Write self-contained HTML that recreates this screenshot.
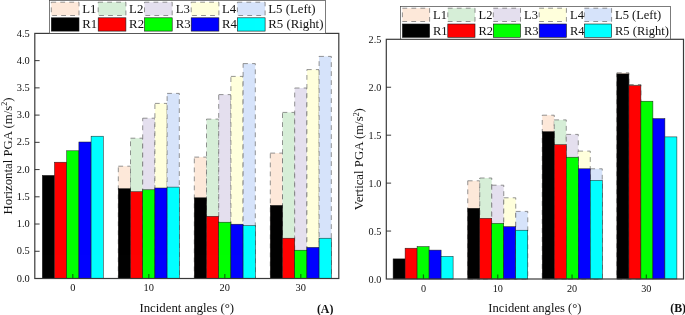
<!DOCTYPE html>
<html><head><meta charset="utf-8"><title>PGA charts</title>
<style>
html,body{margin:0;padding:0;background:#fff;}
body{width:685px;height:315px;overflow:hidden;font-family:"Liberation Serif",serif;}
svg{display:block;will-change:transform;opacity:0.999;}
svg text{font-family:"Liberation Serif",serif;fill:#111;}
</style></head><body>
<svg width="685" height="315" viewBox="0 0 685 315">
<rect x="0" y="0" width="685" height="315" fill="#ffffff"/>
<rect x="118.30" y="166.20" width="12.20" height="112.30" fill="#FDE8D9" stroke="#707070" stroke-width="0.75" stroke-dasharray="4.8 4.2"/>
<rect x="130.50" y="138.20" width="12.20" height="140.30" fill="#D6EED7" stroke="#707070" stroke-width="0.75" stroke-dasharray="4.8 4.2"/>
<rect x="142.70" y="118.20" width="12.20" height="160.30" fill="#E4DFEE" stroke="#707070" stroke-width="0.75" stroke-dasharray="4.8 4.2"/>
<rect x="154.90" y="103.40" width="12.20" height="175.10" fill="#FFFFDC" stroke="#707070" stroke-width="0.75" stroke-dasharray="4.8 4.2"/>
<rect x="167.10" y="93.40" width="12.20" height="185.10" fill="#D6E3FA" stroke="#707070" stroke-width="0.75" stroke-dasharray="4.8 4.2"/>
<rect x="194.30" y="157.10" width="12.20" height="121.40" fill="#FDE8D9" stroke="#707070" stroke-width="0.75" stroke-dasharray="4.8 4.2"/>
<rect x="206.50" y="119.10" width="12.20" height="159.40" fill="#D6EED7" stroke="#707070" stroke-width="0.75" stroke-dasharray="4.8 4.2"/>
<rect x="218.70" y="94.60" width="12.20" height="183.90" fill="#E4DFEE" stroke="#707070" stroke-width="0.75" stroke-dasharray="4.8 4.2"/>
<rect x="230.90" y="76.40" width="12.20" height="202.10" fill="#FFFFDC" stroke="#707070" stroke-width="0.75" stroke-dasharray="4.8 4.2"/>
<rect x="243.10" y="63.60" width="12.20" height="214.90" fill="#D6E3FA" stroke="#707070" stroke-width="0.75" stroke-dasharray="4.8 4.2"/>
<rect x="270.30" y="153.10" width="12.20" height="125.40" fill="#FDE8D9" stroke="#707070" stroke-width="0.75" stroke-dasharray="4.8 4.2"/>
<rect x="282.50" y="112.40" width="12.20" height="166.10" fill="#D6EED7" stroke="#707070" stroke-width="0.75" stroke-dasharray="4.8 4.2"/>
<rect x="294.70" y="88.00" width="12.20" height="190.50" fill="#E4DFEE" stroke="#707070" stroke-width="0.75" stroke-dasharray="4.8 4.2"/>
<rect x="306.90" y="69.60" width="12.20" height="208.90" fill="#FFFFDC" stroke="#707070" stroke-width="0.75" stroke-dasharray="4.8 4.2"/>
<rect x="319.10" y="56.40" width="12.20" height="222.10" fill="#D6E3FA" stroke="#707070" stroke-width="0.75" stroke-dasharray="4.8 4.2"/>
<rect x="42.30" y="175.40" width="12.20" height="103.10" fill="#000000" stroke="#1a1a1a" stroke-width="0.5"/>
<rect x="54.50" y="162.20" width="12.20" height="116.30" fill="#FF0000" stroke="#1a1a1a" stroke-width="0.5"/>
<rect x="66.70" y="150.80" width="12.20" height="127.70" fill="#00FF00" stroke="#1a1a1a" stroke-width="0.5"/>
<rect x="78.90" y="142.00" width="12.20" height="136.50" fill="#0000FF" stroke="#1a1a1a" stroke-width="0.5"/>
<rect x="91.10" y="136.20" width="12.20" height="142.30" fill="#00FFFF" stroke="#1a1a1a" stroke-width="0.5"/>
<rect x="118.30" y="188.70" width="12.20" height="89.80" fill="#000000" stroke="#1a1a1a" stroke-width="0.5"/>
<rect x="130.50" y="191.70" width="12.20" height="86.80" fill="#FF0000" stroke="#1a1a1a" stroke-width="0.5"/>
<rect x="142.70" y="189.80" width="12.20" height="88.70" fill="#00FF00" stroke="#1a1a1a" stroke-width="0.5"/>
<rect x="154.90" y="188.00" width="12.20" height="90.50" fill="#0000FF" stroke="#1a1a1a" stroke-width="0.5"/>
<rect x="167.10" y="187.10" width="12.20" height="91.40" fill="#00FFFF" stroke="#1a1a1a" stroke-width="0.5"/>
<rect x="194.30" y="197.80" width="12.20" height="80.70" fill="#000000" stroke="#1a1a1a" stroke-width="0.5"/>
<rect x="206.50" y="216.30" width="12.20" height="62.20" fill="#FF0000" stroke="#1a1a1a" stroke-width="0.5"/>
<rect x="218.70" y="222.20" width="12.20" height="56.30" fill="#00FF00" stroke="#1a1a1a" stroke-width="0.5"/>
<rect x="230.90" y="224.20" width="12.20" height="54.30" fill="#0000FF" stroke="#1a1a1a" stroke-width="0.5"/>
<rect x="243.10" y="225.60" width="12.20" height="52.90" fill="#00FFFF" stroke="#1a1a1a" stroke-width="0.5"/>
<rect x="270.30" y="205.40" width="12.20" height="73.10" fill="#000000" stroke="#1a1a1a" stroke-width="0.5"/>
<rect x="282.50" y="238.20" width="12.20" height="40.30" fill="#FF0000" stroke="#1a1a1a" stroke-width="0.5"/>
<rect x="294.70" y="250.20" width="12.20" height="28.30" fill="#00FF00" stroke="#1a1a1a" stroke-width="0.5"/>
<rect x="306.90" y="247.40" width="12.20" height="31.10" fill="#0000FF" stroke="#1a1a1a" stroke-width="0.5"/>
<rect x="319.10" y="238.20" width="12.20" height="40.30" fill="#00FFFF" stroke="#1a1a1a" stroke-width="0.5"/>
<rect x="34.8" y="33.4" width="304.00" height="245.10" fill="none" stroke="#3a3a3a" stroke-width="1.2"/>
<text x="29.80" y="281.60" font-size="10.4" text-anchor="end">0.0</text>
<line x1="34.8" y1="251.27" x2="39.599999999999994" y2="251.27" stroke="#222" stroke-width="0.9"/>
<text x="29.80" y="254.37" font-size="10.4" text-anchor="end">0.5</text>
<line x1="34.8" y1="224.03" x2="39.599999999999994" y2="224.03" stroke="#222" stroke-width="0.9"/>
<text x="29.80" y="227.13" font-size="10.4" text-anchor="end">1.0</text>
<line x1="34.8" y1="196.80" x2="39.599999999999994" y2="196.80" stroke="#222" stroke-width="0.9"/>
<text x="29.80" y="199.90" font-size="10.4" text-anchor="end">1.5</text>
<line x1="34.8" y1="169.57" x2="39.599999999999994" y2="169.57" stroke="#222" stroke-width="0.9"/>
<text x="29.80" y="172.67" font-size="10.4" text-anchor="end">2.0</text>
<line x1="34.8" y1="142.33" x2="39.599999999999994" y2="142.33" stroke="#222" stroke-width="0.9"/>
<text x="29.80" y="145.43" font-size="10.4" text-anchor="end">2.5</text>
<line x1="34.8" y1="115.10" x2="39.599999999999994" y2="115.10" stroke="#222" stroke-width="0.9"/>
<text x="29.80" y="118.20" font-size="10.4" text-anchor="end">3.0</text>
<line x1="34.8" y1="87.87" x2="39.599999999999994" y2="87.87" stroke="#222" stroke-width="0.9"/>
<text x="29.80" y="90.97" font-size="10.4" text-anchor="end">3.5</text>
<line x1="34.8" y1="60.63" x2="39.599999999999994" y2="60.63" stroke="#222" stroke-width="0.9"/>
<text x="29.80" y="63.73" font-size="10.4" text-anchor="end">4.0</text>
<text x="29.80" y="36.50" font-size="10.4" text-anchor="end">4.5</text>
<line x1="72.80" y1="278.5" x2="72.80" y2="273.9" stroke="#0a6e0a" stroke-width="1.2"/>
<text x="72.80" y="291.2" font-size="10.4" text-anchor="middle">0</text>
<line x1="148.80" y1="278.5" x2="148.80" y2="273.9" stroke="#0a6e0a" stroke-width="1.2"/>
<text x="148.80" y="291.2" font-size="10.4" text-anchor="middle">10</text>
<line x1="224.80" y1="278.5" x2="224.80" y2="273.9" stroke="#0a6e0a" stroke-width="1.2"/>
<text x="224.80" y="291.2" font-size="10.4" text-anchor="middle">20</text>
<line x1="300.80" y1="278.5" x2="300.80" y2="273.9" stroke="#0a6e0a" stroke-width="1.2"/>
<text x="300.80" y="291.2" font-size="10.4" text-anchor="middle">30</text>
<text x="186.80" y="311.6" font-size="12.8" text-anchor="middle">Incident angles (°)</text>
<text transform="translate(11.7,155.95) rotate(-90)" font-size="12.8" text-anchor="middle">Horizontal PGA (m/s<tspan dy="-4.8" font-size="7.94">2</tspan><tspan dy="4.8">)</tspan></text>
<text x="316.9" y="312.5" font-size="11.9" font-weight="bold">(A)</text>
<rect x="49.6" y="0.4" width="275.90" height="33.00" fill="#fff" stroke="#444" stroke-width="0.7"/>
<rect x="51.30" y="2.2" width="27.7" height="13.3" fill="#FDE8D9" stroke="#707070" stroke-width="0.75" stroke-dasharray="4.8 4.2"/>
<rect x="51.30" y="17.8" width="27.7" height="13.3" fill="#000000" stroke="#1a1a1a" stroke-width="0.6"/>
<text x="82.20" y="12.8" font-size="12.8">L1</text>
<text x="82.20" y="28.4" font-size="12.8">R1</text>
<rect x="98.20" y="2.2" width="27.7" height="13.3" fill="#D6EED7" stroke="#707070" stroke-width="0.75" stroke-dasharray="4.8 4.2"/>
<rect x="98.20" y="17.8" width="27.7" height="13.3" fill="#FF0000" stroke="#1a1a1a" stroke-width="0.6"/>
<text x="129.10" y="12.8" font-size="12.8">L2</text>
<text x="129.10" y="28.4" font-size="12.8">R2</text>
<rect x="144.50" y="2.2" width="27.7" height="13.3" fill="#E4DFEE" stroke="#707070" stroke-width="0.75" stroke-dasharray="4.8 4.2"/>
<rect x="144.50" y="17.8" width="27.7" height="13.3" fill="#00FF00" stroke="#1a1a1a" stroke-width="0.6"/>
<text x="175.80" y="12.8" font-size="12.8">L3</text>
<text x="175.80" y="28.4" font-size="12.8">R3</text>
<rect x="191.20" y="2.2" width="27.7" height="13.3" fill="#FFFFDC" stroke="#707070" stroke-width="0.75" stroke-dasharray="4.8 4.2"/>
<rect x="191.20" y="17.8" width="27.7" height="13.3" fill="#0000FF" stroke="#1a1a1a" stroke-width="0.6"/>
<text x="222.00" y="12.8" font-size="12.8">L4</text>
<text x="222.00" y="28.4" font-size="12.8">R4</text>
<rect x="237.40" y="2.2" width="27.7" height="13.3" fill="#D6E3FA" stroke="#707070" stroke-width="0.75" stroke-dasharray="4.8 4.2"/>
<rect x="237.40" y="17.8" width="27.7" height="13.3" fill="#00FFFF" stroke="#1a1a1a" stroke-width="0.6"/>
<text x="268.30" y="12.8" font-size="12.8">L5 (Left)</text>
<text x="268.30" y="28.4" font-size="12.8">R5 (Right)</text>
<rect x="467.75" y="180.80" width="12.00" height="98.20" fill="#FDE8D9" stroke="#707070" stroke-width="0.75" stroke-dasharray="4.8 4.2"/>
<rect x="479.75" y="178.00" width="12.00" height="101.00" fill="#D6EED7" stroke="#707070" stroke-width="0.75" stroke-dasharray="4.8 4.2"/>
<rect x="491.75" y="185.20" width="12.00" height="93.80" fill="#E4DFEE" stroke="#707070" stroke-width="0.75" stroke-dasharray="4.8 4.2"/>
<rect x="503.75" y="197.80" width="12.00" height="81.20" fill="#FFFFDC" stroke="#707070" stroke-width="0.75" stroke-dasharray="4.8 4.2"/>
<rect x="515.75" y="211.40" width="12.00" height="67.60" fill="#D6E3FA" stroke="#707070" stroke-width="0.75" stroke-dasharray="4.8 4.2"/>
<rect x="542.25" y="115.20" width="12.00" height="163.80" fill="#FDE8D9" stroke="#707070" stroke-width="0.75" stroke-dasharray="4.8 4.2"/>
<rect x="554.25" y="119.90" width="12.00" height="159.10" fill="#D6EED7" stroke="#707070" stroke-width="0.75" stroke-dasharray="4.8 4.2"/>
<rect x="566.25" y="134.40" width="12.00" height="144.60" fill="#E4DFEE" stroke="#707070" stroke-width="0.75" stroke-dasharray="4.8 4.2"/>
<rect x="578.25" y="151.10" width="12.00" height="127.90" fill="#FFFFDC" stroke="#707070" stroke-width="0.75" stroke-dasharray="4.8 4.2"/>
<rect x="590.25" y="168.80" width="12.00" height="110.20" fill="#D6E3FA" stroke="#707070" stroke-width="0.75" stroke-dasharray="4.8 4.2"/>
<rect x="616.90" y="72.80" width="12.00" height="206.20" fill="#FDE8D9" stroke="#707070" stroke-width="0.75" stroke-dasharray="4.8 4.2"/>
<rect x="628.90" y="84.50" width="12.00" height="194.50" fill="#D6EED7" stroke="#707070" stroke-width="0.75" stroke-dasharray="4.8 4.2"/>
<rect x="393.10" y="258.90" width="12.00" height="20.10" fill="#000000" stroke="#1a1a1a" stroke-width="0.5"/>
<rect x="405.10" y="248.20" width="12.00" height="30.80" fill="#FF0000" stroke="#1a1a1a" stroke-width="0.5"/>
<rect x="417.10" y="246.60" width="12.00" height="32.40" fill="#00FF00" stroke="#1a1a1a" stroke-width="0.5"/>
<rect x="429.10" y="250.10" width="12.00" height="28.90" fill="#0000FF" stroke="#1a1a1a" stroke-width="0.5"/>
<rect x="441.10" y="256.30" width="12.00" height="22.70" fill="#00FFFF" stroke="#1a1a1a" stroke-width="0.5"/>
<rect x="467.75" y="208.30" width="12.00" height="70.70" fill="#000000" stroke="#1a1a1a" stroke-width="0.5"/>
<rect x="479.75" y="218.30" width="12.00" height="60.70" fill="#FF0000" stroke="#1a1a1a" stroke-width="0.5"/>
<rect x="491.75" y="223.40" width="12.00" height="55.60" fill="#00FF00" stroke="#1a1a1a" stroke-width="0.5"/>
<rect x="503.75" y="226.70" width="12.00" height="52.30" fill="#0000FF" stroke="#1a1a1a" stroke-width="0.5"/>
<rect x="515.75" y="230.20" width="12.00" height="48.80" fill="#00FFFF" stroke="#1a1a1a" stroke-width="0.5"/>
<rect x="542.25" y="131.70" width="12.00" height="147.30" fill="#000000" stroke="#1a1a1a" stroke-width="0.5"/>
<rect x="554.25" y="144.70" width="12.00" height="134.30" fill="#FF0000" stroke="#1a1a1a" stroke-width="0.5"/>
<rect x="566.25" y="157.20" width="12.00" height="121.80" fill="#00FF00" stroke="#1a1a1a" stroke-width="0.5"/>
<rect x="578.25" y="168.80" width="12.00" height="110.20" fill="#0000FF" stroke="#1a1a1a" stroke-width="0.5"/>
<rect x="590.25" y="180.40" width="12.00" height="98.60" fill="#00FFFF" stroke="#1a1a1a" stroke-width="0.5"/>
<rect x="616.90" y="73.90" width="12.00" height="205.10" fill="#000000" stroke="#1a1a1a" stroke-width="0.5"/>
<rect x="628.90" y="85.50" width="12.00" height="193.50" fill="#FF0000" stroke="#1a1a1a" stroke-width="0.5"/>
<rect x="640.90" y="101.20" width="12.00" height="177.80" fill="#00FF00" stroke="#1a1a1a" stroke-width="0.5"/>
<rect x="652.90" y="118.60" width="12.00" height="160.40" fill="#0000FF" stroke="#1a1a1a" stroke-width="0.5"/>
<rect x="664.90" y="136.90" width="12.00" height="142.10" fill="#00FFFF" stroke="#1a1a1a" stroke-width="0.5"/>
<rect x="386.3" y="39.3" width="297.20" height="239.70" fill="none" stroke="#3a3a3a" stroke-width="1.2"/>
<text x="381.30" y="282.50" font-size="10.2" text-anchor="end">0.0</text>
<line x1="386.3" y1="231.06" x2="391.1" y2="231.06" stroke="#222" stroke-width="0.9"/>
<text x="381.30" y="234.56" font-size="10.2" text-anchor="end">0.5</text>
<line x1="386.3" y1="183.12" x2="391.1" y2="183.12" stroke="#222" stroke-width="0.9"/>
<text x="381.30" y="186.62" font-size="10.2" text-anchor="end">1.0</text>
<line x1="386.3" y1="135.18" x2="391.1" y2="135.18" stroke="#222" stroke-width="0.9"/>
<text x="381.30" y="138.68" font-size="10.2" text-anchor="end">1.5</text>
<line x1="386.3" y1="87.24" x2="391.1" y2="87.24" stroke="#222" stroke-width="0.9"/>
<text x="381.30" y="90.74" font-size="10.2" text-anchor="end">2.0</text>
<text x="381.30" y="42.80" font-size="10.2" text-anchor="end">2.5</text>
<line x1="423.45" y1="279.0" x2="423.45" y2="274.4" stroke="#0a6e0a" stroke-width="1.2"/>
<text x="423.45" y="292.0" font-size="10.2" text-anchor="middle">0</text>
<line x1="497.75" y1="279.0" x2="497.75" y2="274.4" stroke="#0a6e0a" stroke-width="1.2"/>
<text x="497.75" y="292.0" font-size="10.2" text-anchor="middle">10</text>
<line x1="572.05" y1="279.0" x2="572.05" y2="274.4" stroke="#0a6e0a" stroke-width="1.2"/>
<text x="572.05" y="292.0" font-size="10.2" text-anchor="middle">20</text>
<line x1="646.35" y1="279.0" x2="646.35" y2="274.4" stroke="#0a6e0a" stroke-width="1.2"/>
<text x="646.35" y="292.0" font-size="10.2" text-anchor="middle">30</text>
<text x="534.90" y="311.6" font-size="12.6" text-anchor="middle">Incident angles (°)</text>
<text transform="translate(363.4,159.15) rotate(-90)" font-size="12.8" text-anchor="middle">Vertical PGA (m/s<tspan dy="-4.8" font-size="7.94">2</tspan><tspan dy="4.8">)</tspan></text>
<text x="670.2" y="312.3" font-size="11.9" font-weight="bold">(B)</text>
<rect x="400.6" y="6.5" width="270.00" height="32.60" fill="#fff" stroke="#444" stroke-width="0.7"/>
<rect x="402.40" y="8.2" width="27.2" height="13.3" fill="#FDE8D9" stroke="#707070" stroke-width="0.75" stroke-dasharray="4.8 4.2"/>
<rect x="402.40" y="24.0" width="27.2" height="13.3" fill="#000000" stroke="#1a1a1a" stroke-width="0.6"/>
<text x="433.00" y="18.8" font-size="12.5">L1</text>
<text x="433.00" y="34.5" font-size="12.5">R1</text>
<rect x="447.80" y="8.2" width="27.2" height="13.3" fill="#D6EED7" stroke="#707070" stroke-width="0.75" stroke-dasharray="4.8 4.2"/>
<rect x="447.80" y="24.0" width="27.2" height="13.3" fill="#FF0000" stroke="#1a1a1a" stroke-width="0.6"/>
<text x="478.50" y="18.8" font-size="12.5">L2</text>
<text x="478.50" y="34.5" font-size="12.5">R2</text>
<rect x="493.30" y="8.2" width="27.2" height="13.3" fill="#E4DFEE" stroke="#707070" stroke-width="0.75" stroke-dasharray="4.8 4.2"/>
<rect x="493.30" y="24.0" width="27.2" height="13.3" fill="#00FF00" stroke="#1a1a1a" stroke-width="0.6"/>
<text x="524.00" y="18.8" font-size="12.5">L3</text>
<text x="524.00" y="34.5" font-size="12.5">R3</text>
<rect x="539.20" y="8.2" width="27.2" height="13.3" fill="#FFFFDC" stroke="#707070" stroke-width="0.75" stroke-dasharray="4.8 4.2"/>
<rect x="539.20" y="24.0" width="27.2" height="13.3" fill="#0000FF" stroke="#1a1a1a" stroke-width="0.6"/>
<text x="570.00" y="18.8" font-size="12.5">L4</text>
<text x="570.00" y="34.5" font-size="12.5">R4</text>
<rect x="584.40" y="8.2" width="27.2" height="13.3" fill="#D6E3FA" stroke="#707070" stroke-width="0.75" stroke-dasharray="4.8 4.2"/>
<rect x="584.40" y="24.0" width="27.2" height="13.3" fill="#00FFFF" stroke="#1a1a1a" stroke-width="0.6"/>
<text x="615.00" y="18.8" font-size="12.5">L5 (Left)</text>
<text x="615.00" y="34.5" font-size="12.5">R5 (Right)</text>
</svg>
</body></html>
